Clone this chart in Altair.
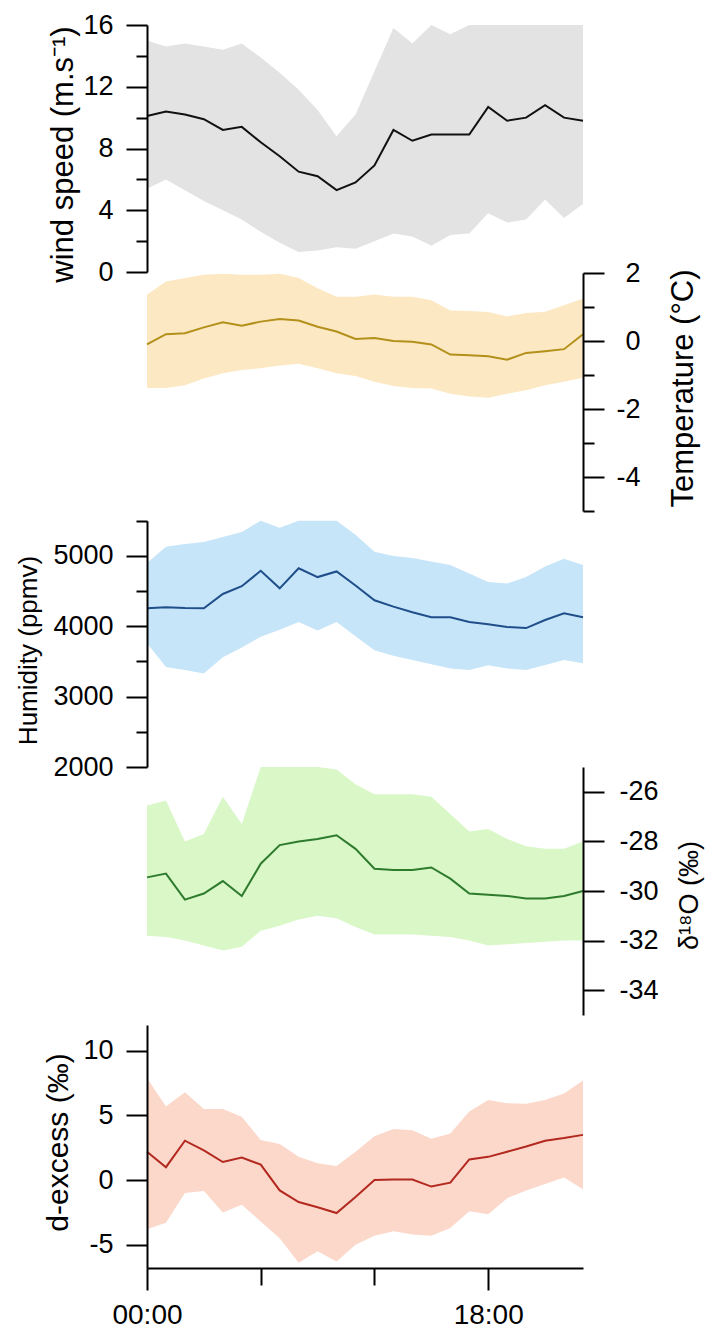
import altair as alt
import pandas as pd

# ---------------- data ----------------
hours = list(range(24))

wind_mean = [10.1, 10.4, 10.2, 9.9, 9.2, 9.4, 8.4, 7.5, 6.5, 6.2, 5.3, 5.8,
             6.9, 9.2, 8.5, 8.9, 8.9, 8.9, 10.7, 9.8, 10.0, 10.8, 10.0, 9.8]
wind_low = [5.4, 6.0, 5.3, 4.6, 4.0, 3.4, 2.6, 1.9, 1.3, 1.4, 1.6, 1.5,
            2.0, 2.5, 2.3, 1.7, 2.4, 2.5, 3.8, 3.2, 3.4, 4.7, 3.5, 4.4]
wind_high = [15.0, 14.6, 14.8, 14.6, 14.4, 14.8, 13.9, 12.9, 11.8, 10.5, 8.8, 10.2,
             13.0, 15.8, 14.8, 16.0, 15.4, 16.0, 16.0, 16.0, 16.0, 16.0, 16.0, 16.0]

temp_mean = [-0.1, 0.2, 0.23, 0.4, 0.55, 0.45, 0.57, 0.65, 0.6, 0.42, 0.28, 0.06,
             0.09, 0.0, -0.02, -0.1, -0.4, -0.42, -0.45, -0.55, -0.35, -0.3, -0.24, 0.2]
temp_high = [1.37, 1.75, 1.85, 1.95, 1.98, 1.95, 1.95, 1.98, 1.85, 1.55, 1.3, 1.3,
             1.37, 1.3, 1.3, 1.2, 0.9, 0.88, 0.85, 0.72, 0.82, 0.86, 1.05, 1.25]
temp_low = [-1.38, -1.38, -1.3, -1.1, -0.95, -0.85, -0.8, -0.72, -0.67, -0.8, -0.95, -1.03,
            -1.2, -1.32, -1.38, -1.4, -1.55, -1.63, -1.67, -1.55, -1.45, -1.3, -1.2, -1.08]

hum_mean = [4256, 4270, 4260, 4256, 4460, 4570, 4790, 4540, 4825, 4700, 4780, 4580,
            4370, 4280, 4200, 4130, 4128, 4060, 4030, 3990, 3975, 4090, 4185, 4128]
hum_high = [4900, 5130, 5170, 5200, 5270, 5340, 5500, 5400, 5500, 5500, 5500, 5300,
            5060, 5000, 4970, 4920, 4870, 4750, 4630, 4610, 4700, 4850, 4960, 4870]
hum_low = [3760, 3420, 3380, 3330, 3560, 3700, 3850, 3950, 4060, 3940, 4060, 3860,
           3660, 3580, 3520, 3460, 3400, 3380, 3445, 3400, 3380, 3450, 3520, 3475]

d18_mean = [-29.45, -29.3, -30.35, -30.1, -29.6, -30.2, -28.9, -28.15, -28.0, -27.9, -27.75, -28.3,
            -29.1, -29.15, -29.15, -29.05, -29.5, -30.1, -30.15, -30.2, -30.3, -30.3, -30.2, -30.0]
d18_high = [-26.55, -26.35, -28.0, -27.7, -26.2, -27.3, -25.0, -25.0, -25.0, -25.0, -25.1, -25.7,
            -26.1, -26.1, -26.1, -26.2, -26.9, -27.6, -27.5, -27.9, -28.2, -28.3, -28.3, -28.0]
d18_low = [-31.8, -31.85, -32.0, -32.2, -32.4, -32.25, -31.6, -31.4, -31.15, -31.0, -31.1, -31.45,
           -31.75, -31.75, -31.75, -31.8, -31.85, -32.0, -32.2, -32.15, -32.1, -32.05, -32.0, -32.0]

dx_mean = [2.2, 1.0, 3.05, 2.3, 1.4, 1.75, 1.2, -0.8, -1.7, -2.1, -2.55, -1.3,
           0.0, 0.05, 0.05, -0.5, -0.2, 1.6, 1.8, 2.2, 2.6, 3.05, 3.25, 3.5]
dx_high = [7.9, 5.7, 6.8, 5.5, 5.5, 4.9, 3.1, 2.8, 1.8, 1.3, 1.1, 2.2,
           3.4, 3.95, 3.85, 3.2, 3.6, 5.3, 6.2, 5.95, 5.9, 6.2, 6.7, 7.7]
dx_low = [-3.8, -3.3, -1.0, -0.85, -2.5, -1.9, -3.2, -4.5, -6.4, -5.5, -6.3, -5.0,
          -4.3, -3.95, -4.2, -4.3, -3.7, -2.4, -2.65, -1.4, -0.8, -0.3, 0.2, -0.7]

x_tick_values = [0, 6, 12, 18]

df = pd.DataFrame({
    "hour": hours,
    "wind": wind_mean, "wind_lo": wind_low, "wind_hi": wind_high,
    "temp": temp_mean, "temp_lo": temp_low, "temp_hi": temp_high,
    "hum": hum_mean, "hum_lo": hum_low, "hum_hi": hum_high,
    "d18": d18_mean, "d18_lo": d18_low, "d18_hi": d18_high,
    "dx": dx_mean, "dx_lo": dx_low, "dx_hi": dx_high,
})

FONT = "Liberation Sans"

COMMON = dict(grid=False, domainColor="black", domainWidth=2, tickColor="black",
              tickWidth=2, labelColor="black", labelFont=FONT, labelFontSize=27,
              labelFlush=False, labelOverlap=False, labelBound=False,
              titleColor="black", titleFont=FONT, titleFontWeight="normal",
              titleAngle=270, titleAlign="center", titleBaseline="middle", zindex=1)


def yaxis(orient, values, major, title, tx, ty, tfs, lpad, lalign):
    return alt.Axis(orient=orient, values=values,
                    labelExpr=f"({major}) ? '' + datum.value : ''",
                    tickSize={"condition": {"test": major, "value": 21}, "value": 11},
                    labelPadding=lpad, labelAlign=lalign,
                    title=title, titleX=tx, titleY=ty, titleFontSize=tfs,
                    **COMMON)


x_axis = alt.Axis(orient="bottom", values=x_tick_values,
                  labelExpr="datum.value == 0 ? '00:00' : (datum.value == 18 ? '18:00' : '')",
                  tickSize={"condition": {"test": "datum.value % 18 === 0", "value": 22}, "value": 17},
                  labelFontSize=28, labelBaseline="alphabetic", labelPadding=33,
                  labelFont=FONT, labelColor="black",
                  labelFlush=False, labelOverlap=False, grid=False,
                  domainColor="black", domainWidth=2, tickColor="black", tickWidth=2,
                  zindex=1)

xscale = alt.Scale(domain=[0, 23], nice=False, zero=False)
X = alt.X("hour:Q", scale=xscale, axis=x_axis, title="")

series = [
    # key, domain, range, band colour, line colour, axis
    ("wind", [0, 16], [254, 7], "#e3e3e3", "#111111",
     yaxis("left", list(range(0, 17, 2)), "datum.value % 4 === 0",
           "wind speed (m.s⁻¹)", -84, 136, 31, 13, "right")),
    ("temp", [-5, 2], [493, 255], "#fde8c4", "#b3901a",
     yaxis("right", [2, 1, 0, -1, -2, -3, -4, -5], "datum.value % 2 === 0",
           "Temperature (°C)", 100, 370, 31, 36, "right")),
    ("hum", [2000, 5500], [749, 502.8], "#c6e5f8", "#1f4e8a",
     yaxis("left", list(range(2000, 5501, 500)), "datum.value % 1000 === 0",
           "Humidity (ppmv)", -119, 632, 26, 13, "right")),
    ("d18", [-35, -25], [997, 749], "#daf7c8", "#2e7b2e",
     yaxis("right", [-26, -28, -30, -32, -34], "true",
           "δ¹⁸O (‰)", 106, 877, 27, 54, "right")),
    ("dx", [-6.8, 12], [1250, 1007], "#fbd8ca", "#b3281f",
     yaxis("left", [10, 5, 0, -5], "true",
           "d-excess (‰)", -89, 1124, 30, 13, "right")),
]

base = alt.Chart(df)
areas = []
lines = []
for key, dom, rng, band, lc, ax in series:
    sc = alt.Scale(domain=dom, range=rng, nice=False, zero=False)
    areas.append(
        base.mark_area(color=band, opacity=1).encode(
            x=X,
            y=alt.Y(f"{key}_lo:Q", scale=sc, axis=ax),
            y2=alt.Y2(f"{key}_hi:Q"),
        )
    )
    lines.append(
        base.mark_line(color=lc, strokeWidth=2).encode(
            x=X,
            y=alt.Y(f"{key}:Q", scale=sc, axis=None),
        )
    )

chart = alt.layer(*areas, *lines).resolve_scale(y="independent").resolve_axis(
    y="independent"
).properties(
    width=436,
    height=1250,
    autosize=alt.AutoSizeParams(type="none"),
    padding={"left": 139, "top": 10, "right": 124, "bottom": 60},
).configure(background="white").configure_view(strokeWidth=0, stroke="white")

chart.save("out.html", embed_options={"renderer": "svg", "actions": False})
